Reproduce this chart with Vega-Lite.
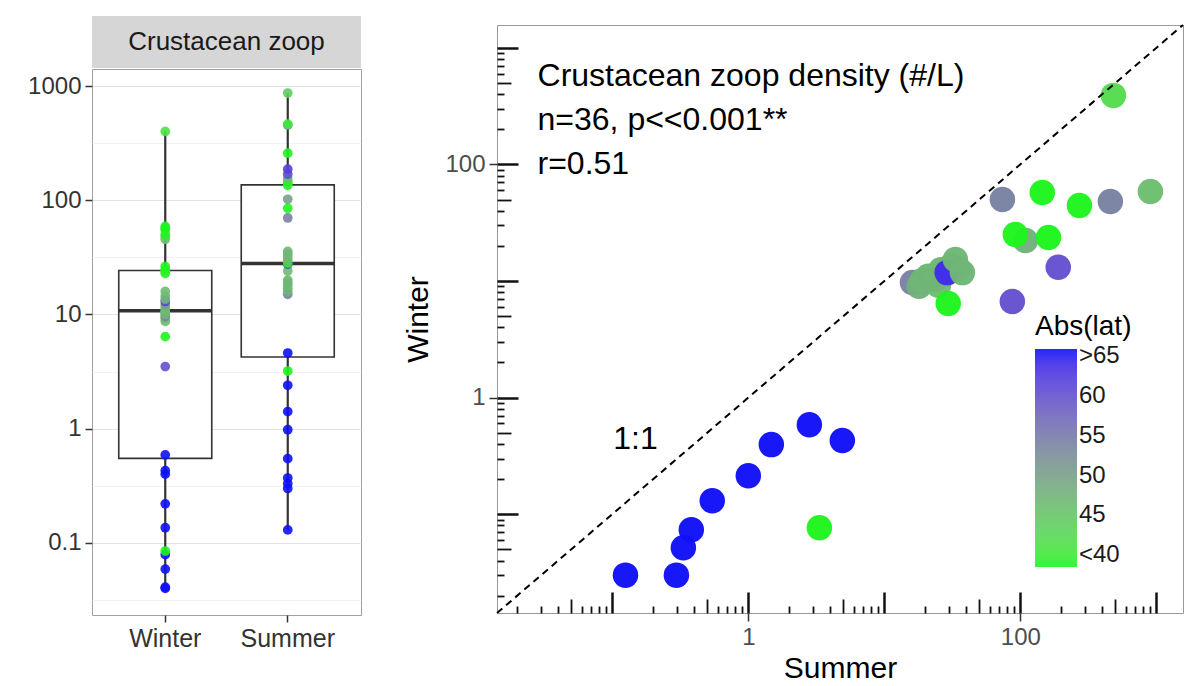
{
  "$schema": "https://vega.github.io/schema/vega-lite/v6.json",
  "padding": {"left": 27, "top": 16, "right": 8, "bottom": 0},
  "config": {"font": "Liberation Sans", "view": {"stroke": null}},
  "datasets": {
    "box": [
      {"season": "Winter", "v": 0.040, "lat": 68}, {"season": "Winter", "v": 0.041, "lat": 68},
      {"season": "Winter", "v": 0.059, "lat": 68}, {"season": "Winter", "v": 0.079, "lat": 68},
      {"season": "Winter", "v": 0.085, "lat": 38}, {"season": "Winter", "v": 0.136, "lat": 68},
      {"season": "Winter", "v": 0.22, "lat": 68}, {"season": "Winter", "v": 0.40, "lat": 68},
      {"season": "Winter", "v": 0.43, "lat": 68}, {"season": "Winter", "v": 0.59, "lat": 68},
      {"season": "Winter", "v": 3.5, "lat": 60}, {"season": "Winter", "v": 6.4, "lat": 38},
      {"season": "Winter", "v": 8.7, "lat": 47}, {"season": "Winter", "v": 9.2, "lat": 46},
      {"season": "Winter", "v": 9.6, "lat": 54}, {"season": "Winter", "v": 10.0, "lat": 47},
      {"season": "Winter", "v": 10.4, "lat": 48}, {"season": "Winter", "v": 10.6, "lat": 47},
      {"season": "Winter", "v": 11.0, "lat": 46}, {"season": "Winter", "v": 11.6, "lat": 47},
      {"season": "Winter", "v": 12.2, "lat": 50}, {"season": "Winter", "v": 13.0, "lat": 62},
      {"season": "Winter", "v": 13.6, "lat": 47}, {"season": "Winter", "v": 14.5, "lat": 48},
      {"season": "Winter", "v": 15.9, "lat": 46}, {"season": "Winter", "v": 22.9, "lat": 38},
      {"season": "Winter", "v": 24.2, "lat": 40}, {"season": "Winter", "v": 24.5, "lat": 39},
      {"season": "Winter", "v": 26.3, "lat": 38}, {"season": "Winter", "v": 45.6, "lat": 46},
      {"season": "Winter", "v": 48, "lat": 44}, {"season": "Winter", "v": 50.5, "lat": 38},
      {"season": "Winter", "v": 55, "lat": 39}, {"season": "Winter", "v": 57, "lat": 38},
      {"season": "Winter", "v": 59, "lat": 38}, {"season": "Winter", "v": 400, "lat": 41},
      {"season": "Summer", "v": 0.13, "lat": 68}, {"season": "Summer", "v": 0.30, "lat": 68},
      {"season": "Summer", "v": 0.33, "lat": 68}, {"season": "Summer", "v": 0.37, "lat": 68},
      {"season": "Summer", "v": 0.547, "lat": 68}, {"season": "Summer", "v": 0.98, "lat": 68},
      {"season": "Summer", "v": 1.41, "lat": 68}, {"season": "Summer", "v": 2.4, "lat": 68},
      {"season": "Summer", "v": 3.2, "lat": 38}, {"season": "Summer", "v": 4.6, "lat": 68},
      {"season": "Summer", "v": 15, "lat": 54}, {"season": "Summer", "v": 16, "lat": 47},
      {"season": "Summer", "v": 17, "lat": 48}, {"season": "Summer", "v": 18, "lat": 46},
      {"season": "Summer", "v": 19, "lat": 47}, {"season": "Summer", "v": 20, "lat": 47},
      {"season": "Summer", "v": 24, "lat": 46}, {"season": "Summer", "v": 27.5, "lat": 60},
      {"season": "Summer", "v": 28.3, "lat": 38}, {"season": "Summer", "v": 30, "lat": 47},
      {"season": "Summer", "v": 32, "lat": 47}, {"season": "Summer", "v": 34, "lat": 46},
      {"season": "Summer", "v": 35.6, "lat": 47}, {"season": "Summer", "v": 70, "lat": 54},
      {"season": "Summer", "v": 85, "lat": 38}, {"season": "Summer", "v": 102, "lat": 50},
      {"season": "Summer", "v": 135, "lat": 38}, {"season": "Summer", "v": 140, "lat": 40},
      {"season": "Summer", "v": 145, "lat": 38}, {"season": "Summer", "v": 155, "lat": 46},
      {"season": "Summer", "v": 169, "lat": 60}, {"season": "Summer", "v": 187, "lat": 62},
      {"season": "Summer", "v": 258, "lat": 38}, {"season": "Summer", "v": 455, "lat": 54},
      {"season": "Summer", "v": 463, "lat": 40}, {"season": "Summer", "v": 868, "lat": 44}
    ],
    "scatter": [
      {"s": 0.125, "w": 0.030, "lat": 68}, {"s": 0.296, "w": 0.030, "lat": 68},
      {"s": 0.333, "w": 0.0516, "lat": 68}, {"s": 0.381, "w": 0.0736, "lat": 68},
      {"s": 0.543, "w": 0.1306, "lat": 68}, {"s": 1.0, "w": 0.214, "lat": 68},
      {"s": 1.476, "w": 0.395, "lat": 68}, {"s": 2.81, "w": 0.586, "lat": 68},
      {"s": 4.91, "w": 0.428, "lat": 68}, {"s": 3.33, "w": 0.0766, "lat": 38},
      {"s": 483, "w": 391, "lat": 42}, {"s": 73.8, "w": 50.1, "lat": 54},
      {"s": 145, "w": 57.5, "lat": 38}, {"s": 272, "w": 44.5, "lat": 38},
      {"s": 459, "w": 48.1, "lat": 54}, {"s": 904, "w": 58.7, "lat": 46},
      {"s": 109, "w": 22.3, "lat": 48}, {"s": 91.9, "w": 25.1, "lat": 38},
      {"s": 161, "w": 23.6, "lat": 38}, {"s": 190, "w": 13.1, "lat": 60},
      {"s": 87.3, "w": 6.67, "lat": 60}, {"s": 16.1, "w": 9.7, "lat": 54},
      {"s": 21.0, "w": 11.0, "lat": 47}, {"s": 26.0, "w": 12.5, "lat": 47},
      {"s": 31.0, "w": 13.5, "lat": 47}, {"s": 18.0, "w": 9.0, "lat": 48},
      {"s": 25.0, "w": 9.2, "lat": 46}, {"s": 35.0, "w": 12.8, "lat": 46},
      {"s": 27.0, "w": 11.3, "lat": 48}, {"s": 22.0, "w": 10.7, "lat": 46},
      {"s": 19.0, "w": 10.1, "lat": 47}, {"s": 23.7, "w": 10.3, "lat": 47},
      {"s": 29.0, "w": 11.8, "lat": 64},
      {"s": 33.3, "w": 15.3, "lat": 47},
      {"s": 37.5, "w": 11.8, "lat": 47}, {"s": 29.5, "w": 6.41, "lat": 38}
    ],
    "diag": [{"x1": 0.0142, "y1": 0.0142, "x2": 1570, "y2": 1570}],
    "notes": [
      {"tx": 0.0282, "ty": 569, "label": "Crustacean zoop density (#/L)"},
      {"tx": 0.0282, "ty": 239, "label": "n=36, p<<0.001**"},
      {"tx": 0.0282, "ty": 100, "label": "r=0.51"},
      {"tx": 0.1017, "ty": 0.445, "label": "1:1"}
    ]
  },
  "spacing": 41,
  "hconcat": [
    {
      "spacing": 0,
      "vconcat": [
        {
          "width": 269,
          "height": 52,
          "view": {"fill": "#d6d6d6", "stroke": null},
          "data": {"values": [{"label": "Crustacean zoop"}]},
          "mark": {"type": "text", "fontSize": 26, "color": "#1a1a1a", "baseline": "middle", "align": "center"},
          "encoding": {"text": {"field": "label", "type": "nominal"}}
        },
        {
          "width": 269,
          "height": 546,
          "view": {"fill": "white", "stroke": "#a0a0a0"},
          "data": {"name": "box"},
          "layer": [
            {
              "mark": {
                "type": "boxplot",
                "extent": "min-max",
                "size": 93,
                "ticks": false,
                "box": {"color": "white", "stroke": "#333333", "strokeWidth": 1.6, "opacity": 1},
                "median": {"color": "#333333", "thickness": 3.5, "opacity": 1},
                "rule": {"color": "#333333", "strokeWidth": 2.2, "opacity": 1}
              },
              "encoding": {
                "x": {
                  "field": "season", "type": "nominal", "sort": ["Winter", "Summer"],
                  "scale": {"paddingInner": 0.25, "paddingOuter": 0.223},
                  "axis": {"title": null, "labelAngle": 0, "labelFontSize": 25, "labelColor": "#333333", "tickSize": 7, "tickColor": "#333333", "tickWidth": 1.5, "domain": false, "labelPadding": 4}
                },
                "y": {
                  "field": "v", "type": "quantitative",
                  "scale": {"type": "log", "domain": [0.0234, 1409], "nice": false},
                  "axis": {
                    "title": null,
                    "values": [0.03162, 0.1, 0.3162, 1, 3.162, 10, 31.62, 100, 316.2, 1000],
                    "labelExpr": "abs(log(datum.value)/LN10 - round(log(datum.value)/LN10)) < 0.01 ? format(datum.value, '~g') : ''",
                    "grid": true,
                    "gridColor": {"condition": {"test": "abs(log(datum.value)/LN10 - round(log(datum.value)/LN10)) < 0.01", "value": "#e2e2e2"}, "value": "#f2f2f2"},
                    "tickOpacity": {"condition": {"test": "abs(log(datum.value)/LN10 - round(log(datum.value)/LN10)) < 0.01", "value": 1}, "value": 0},
                    "tickSize": 7, "tickColor": "#333333", "tickWidth": 1.5,
                    "labelFontSize": 24, "labelColor": "#333333", "labelPadding": 4,
                    "domain": false
                  }
                }
              }
            },
            {
              "mark": {"type": "circle", "size": 95, "opacity": 0.9},
              "encoding": {
                "x": {"field": "season", "type": "nominal", "sort": ["Winter", "Summer"]},
                "y": {"field": "v", "type": "quantitative"},
                "color": {
                  "field": "lat", "type": "quantitative",
                  "scale": {"domain": [38.5, 53, 65.9], "range": ["#1ef51e", "#7a8a9a", "#1010f8"], "interpolate": "lab", "clamp": true},
                  "legend": {
                    "title": "Abs(lat)", "orient": "none", "legendX": 943, "legendY": 297, "direction": "vertical",
                    "gradientLength": 218, "gradientThickness": 42, "gradientStrokeWidth": 0,
                    "values": [40, 45, 50, 55, 60, 65],
                    "labelExpr": "datum.value == 40 ? '<40' : datum.value == 65 ? '>65' : datum.label",
                    "labelFontSize": 24, "labelColor": "#1a1a1a", "labelOverlap": false, "labelOffset": 2,
                    "titleFontSize": 28, "titleFontWeight": "normal", "titleColor": "#000000", "titlePadding": 8
                  }
                }
              }
            }
          ]
        }
      ]
    },
    {
      "spacing": 0,
      "vconcat": [
        {
          "width": 686,
          "height": 7,
          "view": {"fill": null, "stroke": null},
          "data": {"values": [{"k": 1}]},
          "mark": {"type": "point", "opacity": 0, "size": 1},
          "encoding": {}
        },
        {
          "width": 686,
          "height": 588,
          "view": {"fill": "white", "stroke": "#999999"},
          "layer": [
            {
              "data": {"name": "scatter"},
              "mark": {"type": "circle", "size": 650, "opacity": 0.97},
              "encoding": {
                "x": {
                  "field": "s", "type": "quantitative",
                  "scale": {"type": "log", "domain": [0.0142, 1570], "nice": false},
                  "axis": {
                    "orient": "bottom", "title": null, "labels": false, "domain": false, "grid": false,
                    "values": [0.02,0.03,0.04,0.05,0.06,0.07,0.08,0.09,0.1,0.2,0.3,0.4,0.5,0.6,0.7,0.8,0.9,1,2,3,4,5,6,7,8,9,10,20,30,40,50,60,70,80,90,100,200,300,400,500,600,700,800,900,1000],
                    "tickColor": "#111111",
                    "tickSize": {"condition": [{"test": "abs(log(datum.value)/LN10 - round(log(datum.value)/LN10)) < 0.01", "value": -21}, {"test": "abs(log(datum.value)/LN10 - floor(log(datum.value)/LN10 + 0.001) - 0.69897) < 0.01", "value": -14}], "value": -7},
                    "tickWidth": {"condition": {"test": "abs(log(datum.value)/LN10 - round(log(datum.value)/LN10)) < 0.01", "value": 2.5}, "value": 1.8}
                  }
                },
                "y": {
                  "field": "w", "type": "quantitative",
                  "scale": {"type": "log", "domain": [0.0142, 1570], "nice": false},
                  "axis": {
                    "orient": "left", "title": null, "labels": false, "domain": false, "grid": false,
                    "values": [0.02,0.03,0.04,0.05,0.06,0.07,0.08,0.09,0.1,0.2,0.3,0.4,0.5,0.6,0.7,0.8,0.9,1,2,3,4,5,6,7,8,9,10,20,30,40,50,60,70,80,90,100,200,300,400,500,600,700,800,900,1000],
                    "tickColor": "#111111",
                    "tickSize": {"condition": [{"test": "abs(log(datum.value)/LN10 - round(log(datum.value)/LN10)) < 0.01", "value": -21}, {"test": "abs(log(datum.value)/LN10 - floor(log(datum.value)/LN10 + 0.001) - 0.69897) < 0.01", "value": -14}], "value": -7},
                    "tickWidth": {"condition": {"test": "abs(log(datum.value)/LN10 - round(log(datum.value)/LN10)) < 0.01", "value": 2.5}, "value": 1.8}
                  }
                },
                "color": {
                  "field": "lat", "type": "quantitative",
                  "legend": {
                    "title": "Abs(lat)", "orient": "none", "legendX": 943, "legendY": 297, "direction": "vertical",
                    "gradientLength": 218, "gradientThickness": 42, "gradientStrokeWidth": 0,
                    "values": [40, 45, 50, 55, 60, 65],
                    "labelExpr": "datum.value == 40 ? '<40' : datum.value == 65 ? '>65' : datum.label",
                    "labelFontSize": 24, "labelColor": "#1a1a1a", "labelOverlap": false, "labelOffset": 2,
                    "titleFontSize": 28, "titleFontWeight": "normal", "titleColor": "#000000", "titlePadding": 8
                  }
                }
              }
            },
            {
              "data": {"name": "diag"},
              "mark": {"type": "rule", "strokeDash": [7, 5], "strokeWidth": 2, "color": "#000000"},
              "encoding": {
                "x": {
                  "field": "x1", "type": "quantitative",
                  "axis": {
                    "orient": "bottom", "values": [1, 100], "format": "~g", "title": "Summer",
                    "titleFontSize": 30, "titleFontWeight": "normal", "titleColor": "#000000", "titlePadding": 4,
                    "labelFontSize": 24, "labelColor": "#4d4d4d", "labelPadding": 4,
                    "tickSize": 8, "tickColor": "#333333", "tickWidth": 1.5, "domain": false, "grid": false
                  }
                },
                "y": {
                  "field": "y1", "type": "quantitative",
                  "axis": {
                    "orient": "left", "values": [1, 100], "format": "~g", "title": "Winter",
                    "titleFontSize": 30, "titleFontWeight": "normal", "titleColor": "#000000", "titlePadding": 11,
                    "labelFontSize": 24, "labelColor": "#4d4d4d", "labelPadding": 4,
                    "tickSize": 8, "tickColor": "#333333", "tickWidth": 1.5, "domain": false, "grid": false
                  }
                },
                "x2": {"field": "x2"},
                "y2": {"field": "y2"}
              }
            },
            {
              "data": {"name": "notes"},
              "mark": {"type": "text", "align": "left", "baseline": "middle", "fontSize": 32, "color": "#000000"},
              "encoding": {
                "x": {"field": "tx", "type": "quantitative", "axis": null},
                "y": {"field": "ty", "type": "quantitative", "axis": null},
                "text": {"field": "label", "type": "nominal"}
              }
            }
          ],
          "resolve": {"axis": {"x": "independent", "y": "independent"}}
        }
      ]
    }
  ]
}
